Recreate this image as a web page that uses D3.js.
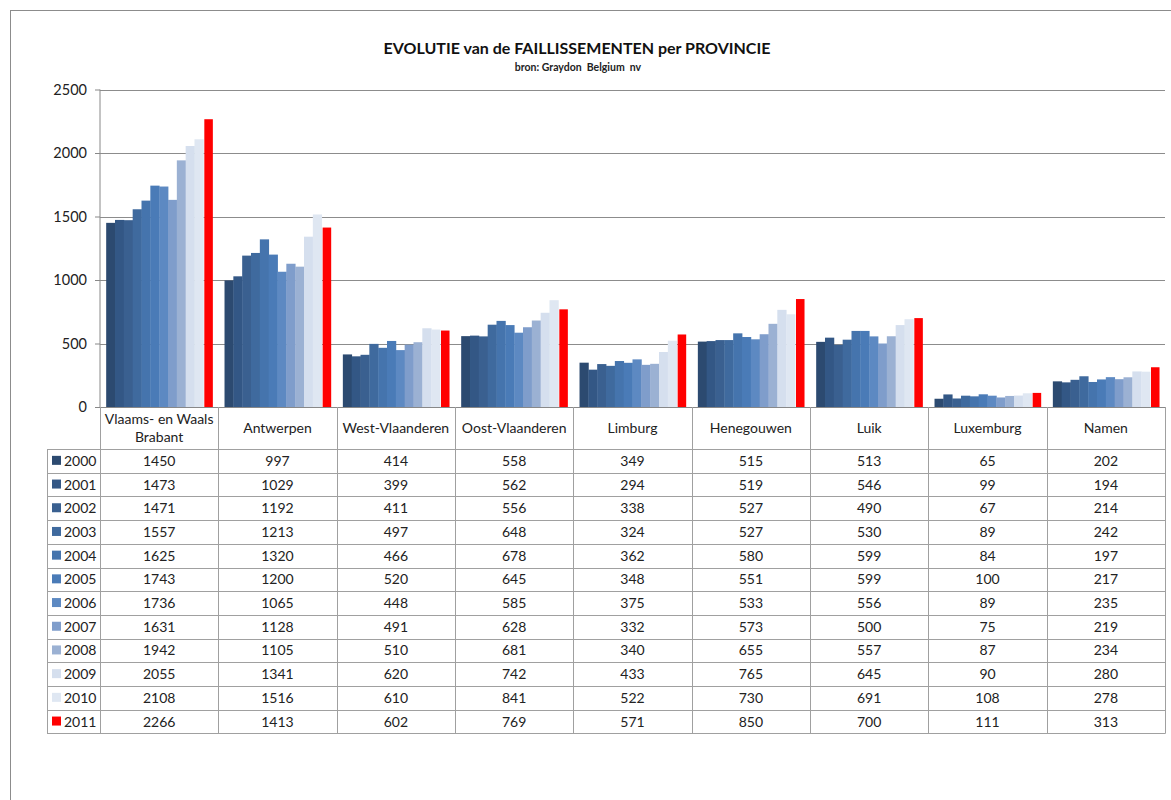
<!DOCTYPE html>
<html><head><meta charset="utf-8">
<script src="https://cdn.jsdelivr.net/npm/d3@7"></script>
<style>body{margin:0;background:#fff}svg{display:block}text{font-family:Lato,"Open Sans",sans-serif}</style>
</head><body>
<svg id="c" width="1171" height="800"></svg>
<script>
const provinces = [["Vlaams- en Waals","Brabant"],["Antwerpen"],["West-Vlaanderen"],["Oost-Vlaanderen"],["Limburg"],["Henegouwen"],["Luik"],["Luxemburg"],["Namen"]];
const years = ["2000","2001","2002","2003","2004","2005","2006","2007","2008","2009","2010","2011"];
const v2000 = [1450,997,414,558,349,515,513,65,202];
const v2001 = [1473,1029,399,562,294,519,546,99,194];
const v2002 = [1471,1192,411,556,338,527,490,67,214];
const v2003 = [1557,1213,497,648,324,527,530,89,242];
const v2004 = [1625,1320,466,678,362,580,599,84,197];
const v2005 = [1743,1200,520,645,348,551,599,100,217];
const v2006 = [1736,1065,448,585,375,533,556,89,235];
const v2007 = [1631,1128,491,628,332,573,500,75,219];
const v2008 = [1942,1105,510,681,340,655,557,87,234];
const v2009 = [2055,1341,620,742,433,765,645,90,280];
const v2010 = [2108,1516,610,841,522,730,691,108,278];
const v2011 = [2266,1413,602,769,571,850,700,111,313];
const yTicks = [0,500,1000,1500,2000,2500];
const series = [v2000,v2001,v2002,v2003,v2004,v2005,v2006,v2007,v2008,v2009,v2010,v2011];
const colors = ["#2c4a70","#335785","#3a6090","#3f6a9e","#4574ad","#4a7bb7","#5d89c2","#7f9dcb","#9bb1d3","#d5dfee","#dfe7f2","#ff0000"];

const svg = d3.select("#c");
const L = 100, R = 1165, T = 89.5, B = 407;
const x = d3.scaleBand().domain(d3.range(provinces.length)).range([L, R]).padding(0);
const xs = d3.scaleBand().domain(years).range([0, x.bandwidth()]).paddingInner(0).paddingOuter(0.7);
const y = d3.scaleLinear().domain([0, 2500]).range([B, T]);

// outer frame
svg.append("rect").attr("x",10.5).attr("y",10.5).attr("width",1200).attr("height",820)
  .attr("fill","none").attr("stroke","#8c8c8c").attr("stroke-width",1);

// title
svg.append("text").attr("x",577).attr("y",54).attr("text-anchor","middle")
  .attr("font-size",16).attr("font-weight","bold").attr("fill","#111")
  .text("EVOLUTIE van de FAILLISSEMENTEN per PROVINCIE");
svg.append("text").attr("x",578).attr("y",71).attr("text-anchor","middle")
  .attr("font-size",10.5).attr("font-weight","bold").attr("fill","#222")
  .attr("xml:space","preserve").style("white-space","pre")
  .text("bron: Graydon  Belgium  nv");

// y axis & gridlines
const yAxis = d3.axisLeft(y).tickValues(yTicks).tickSize(5).tickPadding(8).tickFormat(d3.format("d"));
const ga = svg.append("g").attr("transform",`translate(${L},0)`).call(yAxis);
ga.select(".domain").attr("stroke","#888").attr("d",`M0,${T}V${B}`);
ga.selectAll(".tick line").attr("stroke","#888");
ga.selectAll(".tick text").attr("font-size",14.5).attr("fill","#222").attr("font-family","Lato,sans-serif");
svg.append("g").selectAll("line").data(yTicks.filter(d=>d>0)).join("line")
  .attr("x1",L).attr("x2",R).attr("y1",d=>Math.round(y(d))+0.5).attr("y2",d=>Math.round(y(d))+0.5)
  .attr("stroke","#8c8c8c");

// bars
series.forEach((vals, si) => {
  const yr = years[si];
  const isLast = si === years.length - 1;
  svg.append("g").selectAll("rect").data(vals).join("rect")
    .attr("x",(d,i)=>x(i)+xs(yr)+(isLast?1:0))
    .attr("width",xs.bandwidth()+(isLast?-0.3:0.4))
    .attr("y",d=>y(d)).attr("height",d=>B-y(d))
    .attr("fill",colors[si]);
});

// zero axis line
svg.append("line").attr("x1",L-5).attr("x2",R).attr("y1",B+0.5).attr("y2",B+0.5).attr("stroke","#888");

// table
const rowTop = 449, rowH = 23.7, tableBottom = rowTop + rowH*years.length;
const tbl = svg.append("g").attr("stroke","#a0a0a0").attr("stroke-width",1);
const vx = d3.range(provinces.length+1).map(i => i<provinces.length ? x(i) : R);
tbl.selectAll("line.v").data(vx).join("line").attr("class","v")
  .attr("x1",d=>Math.round(d)+0.5).attr("x2",d=>Math.round(d)+0.5)
  .attr("y1",B).attr("y2",tableBottom);
tbl.append("line").attr("x1",47.5).attr("x2",47.5).attr("y1",rowTop).attr("y2",tableBottom);
tbl.selectAll("line.h").data(d3.range(years.length+1)).join("line").attr("class","h")
  .attr("x1",47).attr("x2",R+0.5)
  .attr("y1",i=>Math.round(rowTop+i*rowH)+0.5).attr("y2",i=>Math.round(rowTop+i*rowH)+0.5);

// header labels
provinces.forEach((lines, i) => {
  const cx = x(i) + x.bandwidth()/2;
  const t = svg.append("text").attr("text-anchor","middle").attr("font-size",14).attr("fill","#222");
  if (lines.length === 1) {
    t.attr("x",cx).attr("y",433).text(lines[0]);
  } else {
    t.append("tspan").attr("x",cx).attr("y",424).text(lines[0]);
    t.append("tspan").attr("x",cx).attr("y",442).text(lines[1]);
  }
});

// rows
years.forEach((yr, si) => {
  const cy = rowTop + si*rowH + rowH/2 + 5;
  svg.append("rect").attr("x",52).attr("y",cy-10).attr("width",9).attr("height",9).attr("fill",colors[si]);
  svg.append("text").attr("x",64).attr("y",cy).attr("font-size",14).attr("fill","#222").text(yr);
  svg.append("g").selectAll("text").data(series[si]).join("text")
    .attr("x",(d,i)=>x(i)+x.bandwidth()/2).attr("y",cy).attr("text-anchor","middle")
    .attr("font-size",14).attr("fill","#222").text(d=>d);
});
</script>
</body></html>
